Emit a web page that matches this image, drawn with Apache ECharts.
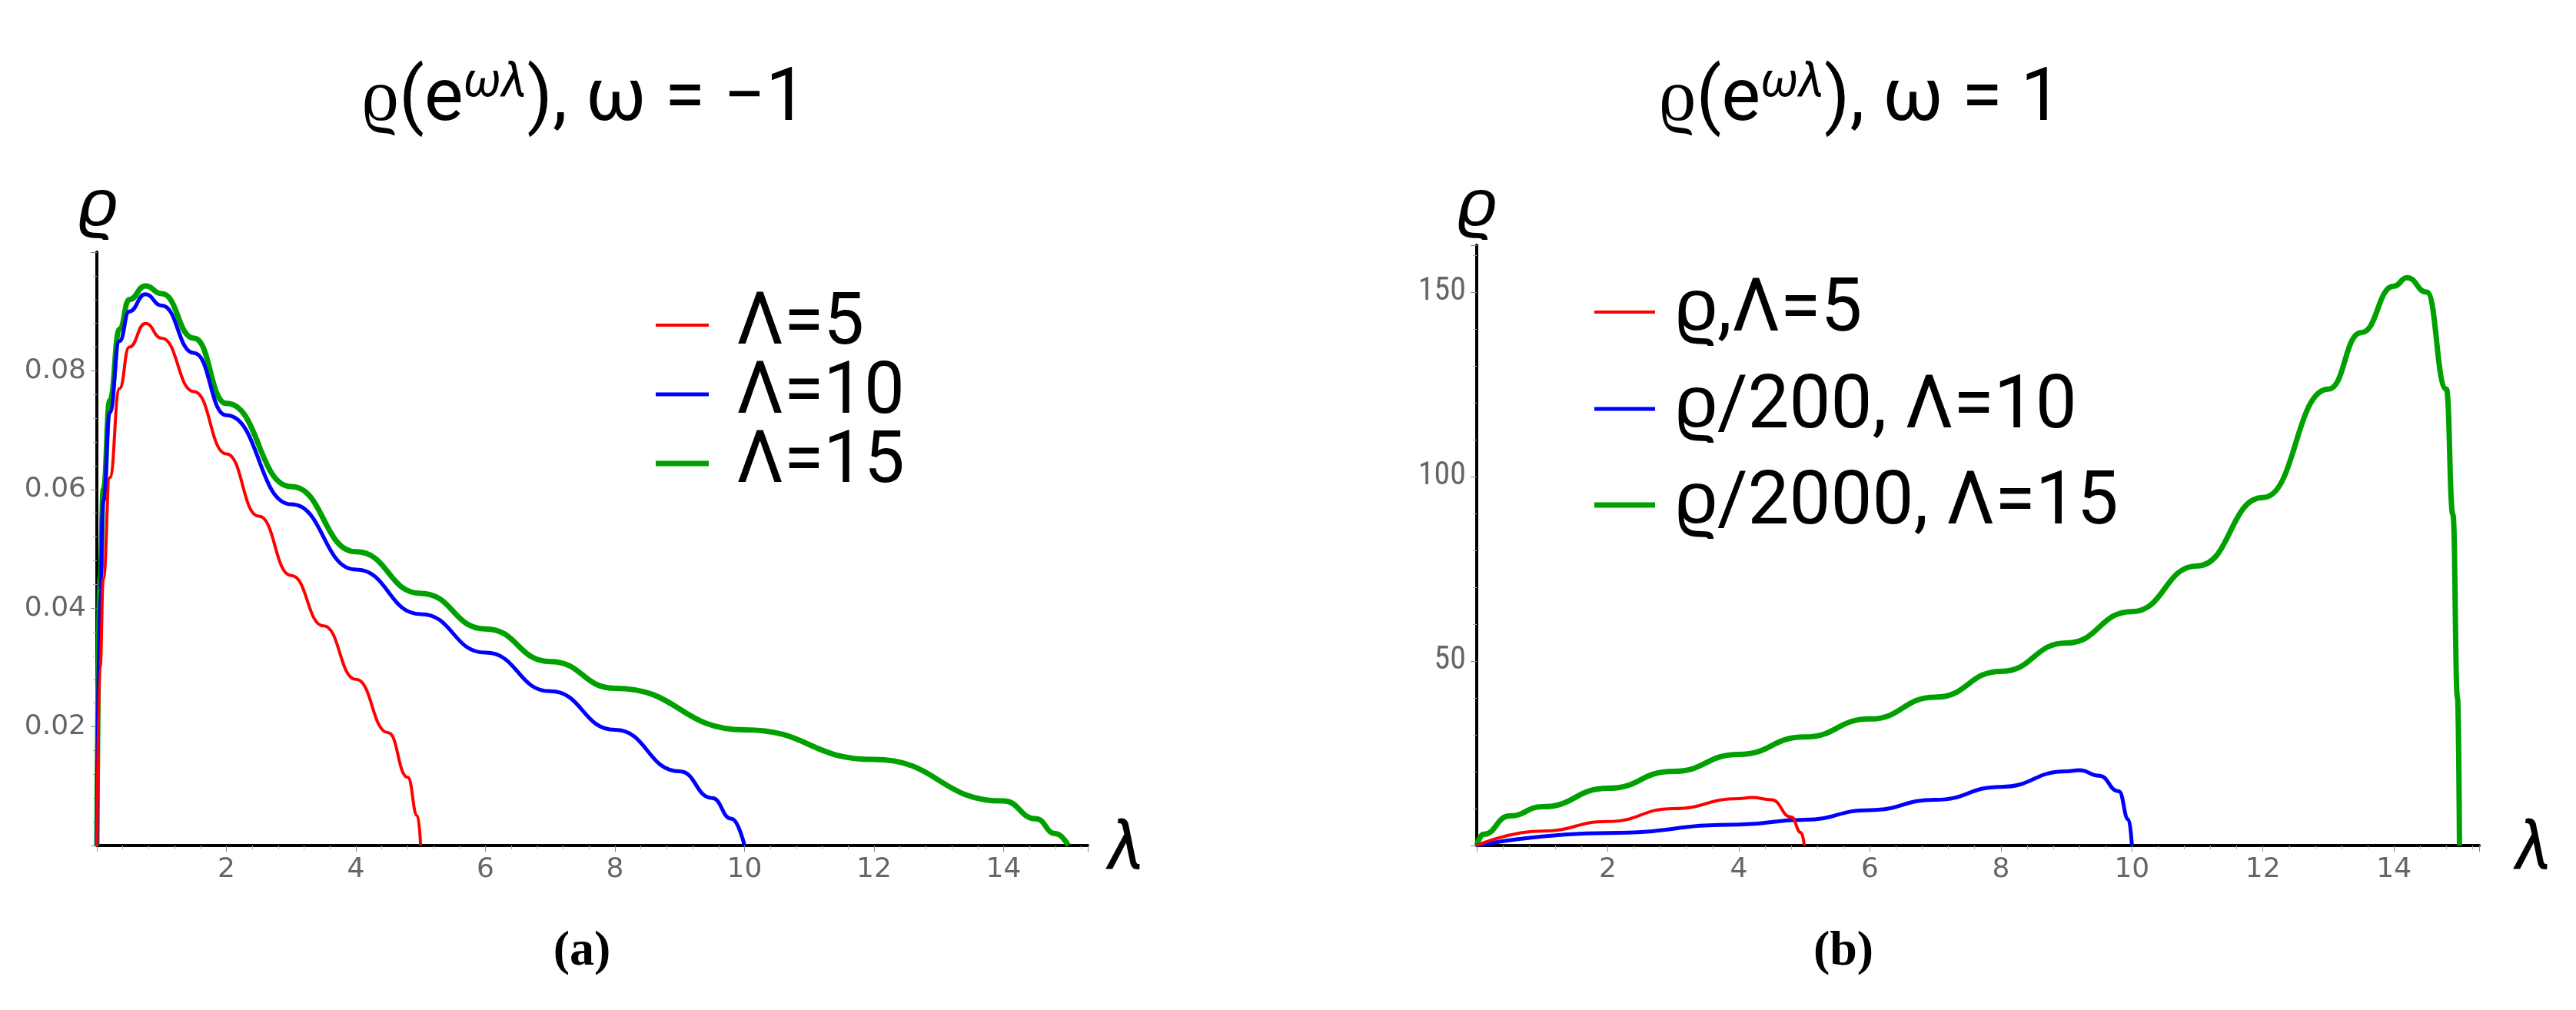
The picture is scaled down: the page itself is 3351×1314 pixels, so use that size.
<!DOCTYPE html>
<html><head><meta charset="utf-8">
<script src="https://cdn.jsdelivr.net/npm/echarts@6/dist/echarts.min.js"></script>
<style>html,body{margin:0;background:#fff}#c{width:3351px;height:1314px}</style>
</head><body><div id="c"></div>
<script>
// Panel (a): omega = -1
const aRedX = [0,0.05,0.1,0.2,0.35,0.5,0.75,1,1.5,2,2.5,3,3.5,4,4.5,4.8,4.95,5];
const aRedY = [0,0.03,0.045,0.062,0.077,0.084,0.088,0.0855,0.0765,0.066,0.0555,0.0455,0.037,0.028,0.019,0.0115,0.005,0];
const aBlueX = [0,0.05,0.1,0.2,0.35,0.5,0.75,1,1.5,2,3,4,5,6,7,8,9,9.5,9.8,10];
const aBlueY = [0,0.043,0.058,0.073,0.085,0.09,0.0929,0.091,0.083,0.0725,0.0575,0.0465,0.039,0.0325,0.026,0.0195,0.0125,0.008,0.0045,0];
const aGreenX = [0,0.05,0.1,0.2,0.35,0.5,0.75,1,1.5,2,3,4,5,6,7,8,10,12,14,14.5,14.8,15];
const aGreenY = [0,0.045,0.06,0.075,0.087,0.092,0.0943,0.093,0.0855,0.0745,0.0605,0.0495,0.0425,0.0365,0.031,0.0265,0.0195,0.0145,0.0075,0.0045,0.002,0];
// Panel (b): omega = 1
const bRedX = [0,1,2,3,4,4.2,4.5,4.8,4.95,5];
const bRedY = [0,3.9,6.5,10,12.7,13,12.4,7.7,3.5,0];
const bBlueX = [0,2,4,5,6,7,8,9,9.2,9.5,9.8,9.95,10];
const bBlueY = [0,3.4,5.7,7,9.6,12.4,15.9,20.1,20.4,18.9,14.7,7,0];
const bGreenX = [0,0.1,0.5,1,2,3,4,5,6,7,8,9,10,11,12,13,13.5,14,14.2,14.5,14.8,14.9,14.97,15];
const bGreenY = [0,3,8,10.5,15.5,20.1,24.7,29.4,34.3,40.2,47.2,54.9,63.4,75.8,94.3,123.7,139,151.6,153.9,150,123.7,89.7,40,0];
const xTicks = [2,4,6,8,10,12,14];
const aYTicks = [0.02,0.04,0.06,0.08];
const bYTicks = [50,100,150];
const aLegend = ['Λ=5','Λ=10','Λ=15'];
const bLegend = ['ϱ,Λ=5','ϱ/200, Λ=10','ϱ/2000, Λ=15'];
const colors = ['#ff0000','#0000ff','#00a000'];
const widths = [4,5,7];

const pairs = (xs, ys) => xs.map((x,i)=>[x, ys[i]]);
const ax = (idx, yticks, ymax, yfmt) => ({
  x: {gridIndex: idx, type:'value', min:0, max:15.3, interval:2,
      axisLine:{lineStyle:{color:'#000',width:4}},
      axisTick:{show:true,length:8,lineStyle:{color:'#888'}},
      minorTick:{show:true,splitNumber:5,length:5,lineStyle:{color:'#aaa'}},
      splitLine:{show:false},
      axisLabel:{fontFamily:'DejaVu Sans',fontSize:36,color:'#666',margin:14,
        formatter:v=>xTicks.includes(v)?String(v):''}},
  y: {gridIndex: idx, type:'value', min:0, max:ymax, interval: yticks[0],
      axisLine:{show:true,lineStyle:{color:'#000',width:4}},
      axisTick:{show:true,length:8,lineStyle:{color:'#888'}},
      minorTick:{show:true,splitNumber:5,length:5,lineStyle:{color:'#aaa'}},
      splitLine:{show:false},
      axisLabel:{fontFamily: idx===0?'DejaVu Sans':'Roboto Condensed, Liberation Sans Narrow, Roboto',fontSize:idx===0?36:42,color:'#666',margin:14,
        formatter:v=>yticks.some(t=>Math.abs(t-v)<1e-9)?yfmt(v):''}}
});
const A = ax(0, aYTicks, 0.1, v=>v.toFixed(2));
const B = ax(1, bYTicks, 162.7, v=>String(v));
const mk = (xs,ys,i,g)=>({type:'line',xAxisIndex:g,yAxisIndex:g,data:pairs(xs,ys),smooth:0.5,smoothMonotone:'x',
  showSymbol:false,lineStyle:{color:colors[i],width:widths[i]},z:10-i});

const T = {fontFamily:'Roboto, Liberation Sans',fill:'#000'};
const graphic = [];
function title(cx, txt){
  graphic.push({type:'text',x:cx,y:132,style:{...T,text:'{a|ϱ(e}{s|ωλ}{a|), ω = '+txt+'}',
    rich:{a:{fontSize:96,fontFamily:'Roboto'},s:{fontSize:62,fontFamily:'Roboto',fontStyle:'italic',verticalAlign:'top',padding:[0,0,46,0]}},
    align:'center',verticalAlign:'middle'}});
}
title(760,'−1'); title(2420,'1');
graphic.push({type:'text',x:128,y:272,style:{...T,text:'ϱ',fontSize:88,fontStyle:'italic',align:'center',verticalAlign:'middle'}});
graphic.push({type:'text',x:1922,y:272,style:{...T,text:'ϱ',fontSize:88,fontStyle:'italic',align:'center',verticalAlign:'middle'}});
graphic.push({type:'text',x:1465,y:1108,style:{...T,text:'λ',fontSize:88,fontStyle:'italic',align:'center',verticalAlign:'middle'}});
graphic.push({type:'text',x:3296,y:1108,style:{...T,text:'λ',fontSize:88,fontStyle:'italic',align:'center',verticalAlign:'middle'}});
graphic.push({type:'text',x:757,y:1238,style:{fill:'#000',text:'(a)',fontFamily:'Liberation Serif',fontWeight:'bold',fontSize:64,align:'center',verticalAlign:'middle'}});
graphic.push({type:'text',x:2398,y:1238,style:{fill:'#000',text:'(b)',fontFamily:'Liberation Serif',fontWeight:'bold',fontSize:64,align:'center',verticalAlign:'middle'}});
function legend(x0,x1,tx,ys,labels,fs){
  labels.forEach((l,i)=>{
    graphic.push({type:'line',shape:{x1:x0,y1:ys[i],x2:x1,y2:ys[i]},style:{stroke:colors[i],lineWidth:widths[i]}});
    graphic.push({type:'text',x:tx,y:ys[i],style:{...T,text:l,fontSize:fs,verticalAlign:'middle'}});
  });
}
legend(853,922,958,[423,513,603],aLegend,94);
legend(2074,2153,2179,[406,532,657],bLegend,96);

const chart = echarts.init(document.getElementById('c'));
chart.setOption({
  animation:false,
  grid:[{left:126,top:328,width:1289,height:772},{left:1921,top:319,width:1304,height:781}],
  xAxis:[A.x,B.x], yAxis:[A.y,B.y],
  series:[mk(aRedX,aRedY,0,0),mk(aBlueX,aBlueY,1,0),mk(aGreenX,aGreenY,2,0),
          mk(bRedX,bRedY,0,1),mk(bBlueX,bBlueY,1,1),mk(bGreenX,bGreenY,2,1)],
  graphic
});
</script></body></html>
